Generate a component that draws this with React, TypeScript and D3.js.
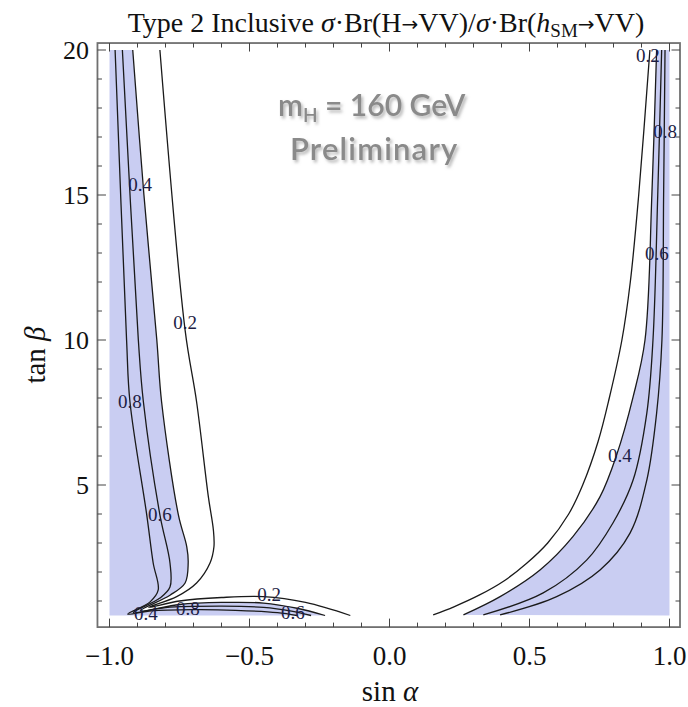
import React from 'react';
import * as d3 from 'd3';

type P = [number, number];

// contour lines: [sin alpha, tan beta]
const LEFT_02: P[] = [[-0.82, 20], [-0.73, 10.34], [-0.689, 7.87], [-0.647, 4.6], [-0.629, 3.45], [-0.627, 2.87], [-0.641, 2.31], [-0.689, 1.62], [-0.76, 1.15], [-0.86, 0.78], [-0.75, 1.0], [-0.6, 1.12], [-0.45, 1.15], [-0.3, 0.95], [-0.14, 0.5]];
const LEFT_04: P[] = [[-0.917, 20], [-0.877, 15], [-0.831, 10], [-0.814, 7.87], [-0.754, 3.97], [-0.724, 2.87], [-0.719, 2.31], [-0.73, 1.62], [-0.784, 1.2], [-0.89, 0.66], [-0.75, 0.88], [-0.6, 0.95], [-0.45, 0.93], [-0.33, 0.75], [-0.23, 0.5]];
const LEFT_06: P[] = [[-0.954, 20], [-0.897, 10], [-0.879, 7.87], [-0.82, 3.97], [-0.784, 2.31], [-0.784, 1.48], [-0.82, 1.1], [-0.915, 0.6], [-0.8, 0.77], [-0.6, 0.82], [-0.45, 0.78], [-0.35, 0.65], [-0.28, 0.5]];
const LEFT_08: P[] = [[-0.98, 20], [-0.939, 10], [-0.927, 7.87], [-0.867, 3.97], [-0.844, 2.31], [-0.826, 1.38], [-0.855, 0.97], [-0.935, 0.55], [-0.85, 0.66], [-0.7, 0.7], [-0.55, 0.68], [-0.4, 0.6], [-0.33, 0.5]];

const RIGHT_02: P[] = [[0.93, 20], [0.89, 15], [0.86, 12], [0.83, 10], [0.785, 8], [0.745, 6.5], [0.69, 5], [0.64, 4], [0.565, 3], [0.49, 2.3], [0.41, 1.7], [0.32, 1.2], [0.23, 0.8], [0.156, 0.52]];
const RIGHT_04: P[] = [[0.954, 20], [0.937, 15], [0.9125, 10], [0.87, 8.04], [0.811, 6.03], [0.752, 4.6], [0.655, 3.22], [0.5375, 2.07], [0.395, 1.15], [0.264, 0.52]];
const RIGHT_06: P[] = [[0.972, 20], [0.958, 15], [0.941, 10], [0.919, 7.48], [0.87, 5.17], [0.798, 3.69], [0.704, 2.41], [0.549, 1.28], [0.335, 0.52]];
const RIGHT_08: P[] = [[0.984, 20], [0.979, 15], [0.973, 10], [0.954, 7.48], [0.919, 5.17], [0.859, 3.34], [0.752, 2.07], [0.597, 1.15], [0.395, 0.52]];

const CONTOURS: P[][] = [LEFT_02, LEFT_04, LEFT_06, LEFT_08, RIGHT_02, RIGHT_04, RIGHT_06, RIGHT_08];

const LABEL_TEXT = ['0.4', '0.2', '0.8', '0.6', '0.2', '0.8', '0.6', '0.4', '0.2', '0.8', '0.6', '0.4'];
const LABEL_POS: P[] = [[-0.891, 15.36], [-0.73, 10.6], [-0.927, 7.87], [-0.82, 3.97], [-0.43, 1.22], [-0.72, 0.74], [-0.345, 0.59], [-0.87, 0.58], [0.923, 19.8], [0.984, 17.2], [0.955, 13.0], [0.823, 6.03]];

const X_MAJOR = [-1, -0.5, 0, 0.5, 1];
const X_LABELS = ['\u22121.0', '\u22120.5', '0.0', '0.5', '1.0'];
const X_MINOR = d3.range(-10, 11).map((i) => i / 10);
const Y_MAJOR = [5, 10, 15, 20];
const Y_LABELS = ['5', '10', '15', '20'];
const Y_MINOR = d3.range(1, 21);

const SHADE = '#c9cdf2';

export default function App() {
  const x = d3.scaleLinear().domain([-1, 1]).range([109.5, 669.5]);
  const y = d3.scaleLinear().domain([0, 20]).range([630, 50]);
  const line = d3
    .line<P>()
    .x((d) => x(d[0]))
    .y((d) => y(d[1]))
    .curve(d3.curveCatmullRom.alpha(0.5));

  const fx0 = x(-1.043);
  const fx1 = x(1.0375);
  const fy0 = y(20.24);
  const fy1 = y(0.1);

  const leftShade = `${line(LEFT_04)}L${x(-1)},${y(0.5)}L${x(-1)},${y(20)}Z`;
  const rightShade = `${line(RIGHT_04)}L${x(1)},${y(0.5)}L${x(1)},${y(20)}Z`;

  const serif = '"Liberation Serif", "DejaVu Serif", serif';

  return (
    <svg width={688} height={707} style={{ position: 'absolute', left: 0, top: 0, background: '#fff' }}>
      <defs>
        <filter id="shadow" x="-10%" y="-20%" width="130%" height="150%">
          <feDropShadow dx="2" dy="2.5" stdDeviation="1.5" floodColor="#9a9a9a" floodOpacity="0.7" />
        </filter>
      </defs>
      <rect width={688} height={707} fill="#fff" />
      {/* title */}
      <text x={386} y={32} textAnchor="middle" fontFamily={serif} fontSize={28} fill="#111">
        Type 2 Inclusive <tspan fontStyle="italic">σ</tspan>·Br(H
        <tspan fontFamily='"DejaVu Sans", sans-serif' fontSize={20} dy={-1}>→</tspan>
        <tspan dy={1}>VV)/</tspan>
        <tspan fontStyle="italic">σ</tspan>·Br(
        <tspan fontStyle="italic">h</tspan>
        <tspan fontSize={19} dy={5}>SM</tspan>
        <tspan fontFamily='"DejaVu Sans", sans-serif' fontSize={20} dy={-6}>→</tspan>
        <tspan dy={1}>VV)</tspan>
      </text>

      {/* shaded regions */}
      <path d={leftShade} fill={SHADE} stroke="none" />
      <path d={rightShade} fill={SHADE} stroke="none" />

      {/* contour lines */}
      {CONTOURS.map((c, i) => (
        <path key={i} d={line(c) || ''} fill="none" stroke="#1a1a1a" strokeWidth={1.3} />
      ))}

      {/* contour labels */}
      {LABEL_POS.map((p, i) => (
        <text key={i} x={x(p[0])} y={y(p[1]) + 6.5} textAnchor="middle" fontFamily={serif} fontSize={19} fill="#1d1d45">
          {LABEL_TEXT[i]}
        </text>
      ))}

      {/* frame */}
      <rect x={fx0} y={fy0} width={fx1 - fx0} height={fy1 - fy0} fill="none" stroke="#707070" strokeWidth={1.8} />

      {/* ticks */}
      {X_MINOR.map((v, i) => {
        const major = Math.abs(v * 2 - Math.round(v * 2)) < 1e-6;
        const len = major ? 8.5 : 4.5;
        return (
          <g key={'xt' + i} stroke="#444" strokeWidth={1}>
            <line x1={x(v)} x2={x(v)} y1={fy1} y2={fy1 - len} />
            <line x1={x(v)} x2={x(v)} y1={fy0} y2={fy0 + len} />
          </g>
        );
      })}
      {Y_MINOR.map((v, i) => {
        const major = v % 5 === 0;
        const len = major ? 8.5 : 4.5;
        return (
          <g key={'yt' + i} stroke="#444" strokeWidth={1}>
            <line x1={fx0} x2={fx0 + len} y1={y(v)} y2={y(v)} />
            <line x1={fx1} x2={fx1 - len} y1={y(v)} y2={y(v)} />
          </g>
        );
      })}
      {X_MAJOR.map((v, i) => (
        <text key={'xl' + i} x={x(v)} y={665} textAnchor="middle" fontFamily={serif} fontSize={27} fill="#111">
          {X_LABELS[i]}
        </text>
      ))}
      {Y_MAJOR.map((v, i) => (
        <text key={'yl' + i} x={89} y={y(v) + 9} textAnchor="end" fontFamily={serif} fontSize={26} fill="#111">
          {Y_LABELS[i]}
        </text>
      ))}

      {/* axis titles */}
      <text x={390} y={701} textAnchor="middle" fontFamily={serif} fontSize={29} fill="#111">
        sin <tspan fontStyle="italic">α</tspan>
      </text>
      <text transform={`translate(45,${355}) rotate(-90)`} textAnchor="middle" fontFamily={serif} fontSize={29} fill="#111">
        tan <tspan fontStyle="italic">β</tspan>
      </text>

      {/* annotation */}
      <g filter="url(#shadow)" fill="#8a8a8a" fontFamily='Lato, "Open Sans", sans-serif' fontWeight={600}>
        <text x={278} y={116} fontSize={30}>
          m<tspan fontSize={19} dy={6}>H</tspan>
          <tspan dy={-6}> = 160 GeV</tspan>
        </text>
        <text x={290} y={160} fontSize={31} letterSpacing={1.2}>
          Preliminary
        </text>
      </g>
    </svg>
  );
}
